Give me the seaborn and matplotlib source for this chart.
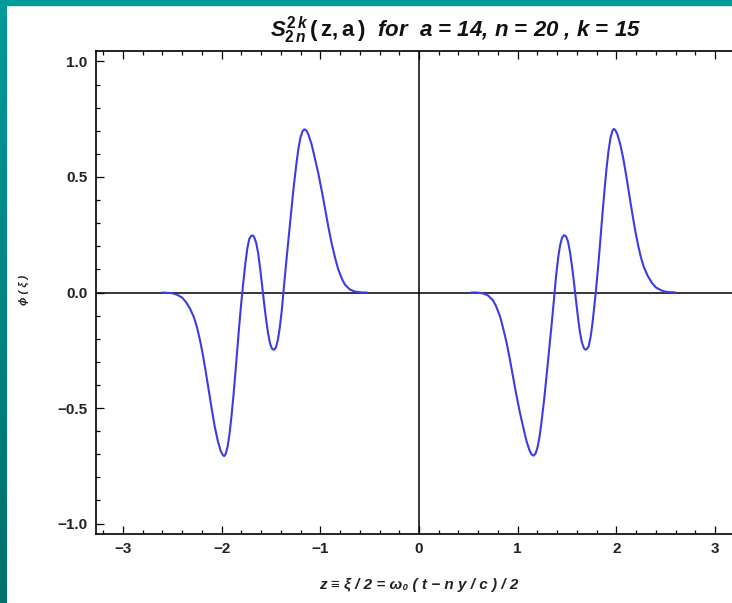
import numpy as np
import pandas as pd
import matplotlib
matplotlib.use("Agg")
import matplotlib.pyplot as plt
from matplotlib.patches import Rectangle
import seaborn as sns

# Left pulse (z < 0)
z_left = [-2.60, -2.50, -2.45, -2.40, -2.36, -2.32, -2.28, -2.25, -2.22, -2.19,
          -2.16, -2.13, -2.10, -2.07, -2.04, -2.01, -1.99, -1.975, -1.96, -1.94,
          -1.92, -1.90, -1.88, -1.86, -1.84, -1.82, -1.80, -1.78, -1.76, -1.74,
          -1.72, -1.70, -1.685, -1.67, -1.65, -1.63, -1.61, -1.59, -1.57, -1.55,
          -1.53, -1.51, -1.49, -1.47, -1.45, -1.43, -1.41, -1.39, -1.375, -1.36,
          -1.34, -1.32, -1.30, -1.27, -1.24, -1.22, -1.20, -1.18, -1.16, -1.14,
          -1.12, -1.09, -1.06, -1.02, -0.98, -0.95, -0.92, -0.885, -0.85, -0.82,
          -0.78, -0.75, -0.70, -0.65, -0.58, -0.53]
phi_left = [0.000, -0.003, -0.010, -0.022, -0.042, -0.070, -0.108, -0.150, -0.205, -0.270,
            -0.345, -0.425, -0.505, -0.580, -0.640, -0.685, -0.702, -0.708, -0.700, -0.668,
            -0.612, -0.535, -0.445, -0.345, -0.240, -0.135, -0.040, 0.045, 0.125, 0.190,
            0.232, 0.245, 0.247, 0.240, 0.215, 0.170, 0.105, 0.030, -0.045, -0.115,
            -0.175, -0.220, -0.243, -0.248, -0.238, -0.205, -0.150, -0.075, -0.005, 0.065,
            0.155, 0.242, 0.328, 0.456, 0.565, 0.628, 0.672, 0.698, 0.706, 0.700,
            0.683, 0.644, 0.590, 0.515, 0.428, 0.358, 0.287, 0.212, 0.150, 0.102,
            0.058, 0.034, 0.013, 0.004, 0.000, 0.000]

# Right pulse (z > 0)
z_right = [0.53, 0.58, 0.65, 0.70, 0.75, 0.78, 0.82, 0.85, 0.885, 0.92,
           0.95, 0.98, 1.02, 1.06, 1.09, 1.12, 1.14, 1.16, 1.18, 1.20,
           1.22, 1.24, 1.27, 1.30, 1.32, 1.34, 1.36, 1.375, 1.39, 1.41,
           1.43, 1.45, 1.47, 1.49, 1.51, 1.53, 1.55, 1.57, 1.59, 1.61,
           1.63, 1.65, 1.67, 1.685, 1.70, 1.72, 1.74, 1.76, 1.78, 1.80,
           1.82, 1.84, 1.86, 1.88, 1.90, 1.92, 1.94, 1.96, 1.975, 1.99,
           2.01, 2.04, 2.07, 2.10, 2.13, 2.16, 2.19, 2.22, 2.25, 2.28,
           2.32, 2.36, 2.40, 2.45, 2.50, 2.60]
phi_right = [0.000, 0.000, -0.004, -0.013, -0.034, -0.058, -0.102, -0.150, -0.212, -0.287,
             -0.358, -0.428, -0.515, -0.590, -0.644, -0.683, -0.700, -0.706, -0.698, -0.672,
             -0.628, -0.565, -0.456, -0.328, -0.242, -0.155, -0.065, 0.005, 0.075, 0.150,
             0.205, 0.238, 0.248, 0.243, 0.220, 0.175, 0.115, 0.045, -0.030, -0.105,
             -0.170, -0.215, -0.240, -0.247, -0.245, -0.232, -0.190, -0.125, -0.045, 0.040,
             0.135, 0.240, 0.345, 0.445, 0.535, 0.612, 0.668, 0.700, 0.708, 0.702,
             0.685, 0.640, 0.580, 0.505, 0.425, 0.345, 0.270, 0.205, 0.150, 0.108,
             0.070, 0.042, 0.022, 0.010, 0.003, 0.000]

x_ticks = [-3, -2, -1, 0, 1, 2, 3]
y_ticks = [-1.0, -0.5, 0.0, 0.5, 1.0]
y_tick_labels = ["\u22121.0", "\u22120.5", "0.0", "0.5", "1.0"]
x_tick_labels = ["\u22123", "\u22122", "\u22121", "0", "1", "2", "3"]

df = pd.concat([
    pd.DataFrame({"z": z_left, "phi": phi_left, "pulse": "left"}),
    pd.DataFrame({"z": z_right, "phi": phi_right, "pulse": "right"}),
], ignore_index=True)

sns.set_style("ticks")
plt.rcParams["font.family"] = ["Liberation Sans", "DejaVu Sans"]
plt.rcParams["mathtext.fontset"] = "custom"
plt.rcParams["mathtext.rm"] = "Liberation Sans:bold"
plt.rcParams["mathtext.it"] = "Liberation Sans:italic:bold"
plt.rcParams["mathtext.bf"] = "Liberation Sans:bold"

W, H = 732, 603
fig = plt.figure(figsize=(W / 100, H / 100), dpi=100, facecolor="white")

# teal frame: band along the top and a shaded band on the left
grad = fig.add_axes([0, 0, 7 / W, 1])
grad.imshow(np.linspace(0, 1, 256).reshape(-1, 1), aspect="auto",
            cmap=matplotlib.colors.LinearSegmentedColormap.from_list(
                "teal", ["#009a98", "#00706a"]))
grad.set_axis_off()
fig.patches.append(Rectangle((0, 1 - 5 / H), 1, 5 / H, transform=fig.transFigure,
                             color="#009a98", zorder=5))

ax = fig.add_axes([96 / W, (H - 534) / H, 646 / W, 483 / H])
ax.set_facecolor("white")

ax.axhline(0, color="black", lw=1.1, zorder=2)
ax.axvline(0, color="black", lw=1.1, zorder=2)

sns.lineplot(data=df, x="z", y="phi", units="pulse", estimator=None,
             color="#3c3ce6", lw=1.5, ax=ax, zorder=3, legend=False)

ax.set_xlim(-3.273, 3.273)
ax.set_ylim(-1.045, 1.045)

ax.set_xticks(x_ticks)
ax.set_xticklabels(x_tick_labels)
ax.set_yticks(y_ticks)
ax.set_yticklabels(y_tick_labels)
ax.set_xticks(np.arange(-3.2, 3.21, 0.2), minor=True)
ax.set_yticks(np.arange(-1.0, 1.01, 0.1), minor=True)
ax.tick_params(which="both", direction="in", top=True, right=True,
               color="black", width=0.9)
ax.tick_params(which="major", length=5.5, labelsize=11, pad=6)
ax.tick_params(which="minor", length=3)
for lab in ax.get_xticklabels() + ax.get_yticklabels():
    lab.set_fontweight("bold")
    lab.set_color("#222222")

for sp in ax.spines.values():
    sp.set_linewidth(1.2)
    sp.set_color("black")

ax.set_xlabel("z \u2261 \u03be / 2 = \u03c9\u2080 ( t \u2212 n y / c ) / 2",
              fontsize=11, fontweight="bold", style="italic", color="#222222")
ax.xaxis.set_label_coords(0.5, -0.105)
ax.xaxis.label.set_va("center")

ax.set_ylabel("\u03d5 ( \u03be )", fontsize=8, fontweight="bold",
              style="italic", color="#222222")
ax.yaxis.set_label_coords(-0.111, 0.505)
ax.yaxis.label.set_va("center")

ax.text(0.556, 1.0435,
        r"$S^{2\,k}_{2\,n}\,\mathrm{(\,z,a\,)}$  for  a = 14, n = 20 , k = 15",
        transform=ax.transAxes, ha="center", va="center",
        fontsize=16, fontweight="bold", style="italic",
        family=["Liberation Sans", "DejaVu Sans"],
        color="#111111")

fig.savefig("out.png", dpi=100, facecolor="white")
